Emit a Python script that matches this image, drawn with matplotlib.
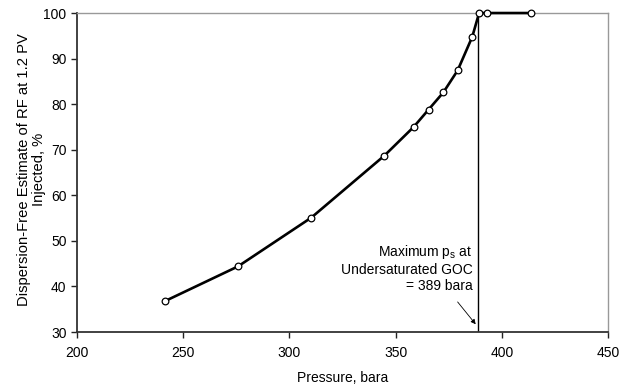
import matplotlib
matplotlib.use("Agg")
import matplotlib.pyplot as plt

plt.rcParams['font.family'] = ['Liberation Sans', 'DejaVu Sans']

# data
pressure = [241.5, 275.8, 310.3, 344.7, 358.5, 365.5, 372.5, 379.2, 386.1, 389.3, 392.9, 413.7]
rf = [36.8, 44.4, 55.1, 68.7, 75.0, 78.8, 82.6, 87.4, 94.8, 100.0, 100.0, 100.0]
max_ps = 389
x_ticks = [200, 250, 300, 350, 400, 450]
y_ticks = [30, 40, 50, 60, 70, 80, 90, 100]

fig = plt.figure(figsize=(6.34, 3.89), dpi=100)
ax = fig.add_axes([0.1215, 0.1465, 0.8375, 0.82])

ax.plot(pressure, rf, color='black', lw=1.9, marker='o', ms=4.8,
        mfc='white', mec='black', mew=0.9, zorder=3, clip_on=False)
ax.axvline(max_ps, color='black', lw=1.0, zorder=2)

ax.annotate('', xy=(387.7, 31.7), xytext=(379.2, 36.6),
            arrowprops=dict(arrowstyle='-|>', color='black', lw=0.6,
                            mutation_scale=7, shrinkA=0, shrinkB=0))
ax.text(386.4, 44.0, 'Maximum p$_\\mathregular{s}$ at\nUndersaturated GOC\n= 389 bara',
        ha='right', va='center', fontsize=10, linespacing=1.2)

ax.set_xlim(200, 450)
ax.set_ylim(30, 100)
ax.set_xticks(x_ticks)
ax.set_yticks(y_ticks)
ax.tick_params(direction='out', length=4, width=1, labelsize=10, colors='#222222',
               labelcolor='black')
ax.tick_params(axis='x', pad=6)

ax.set_xlabel('Pressure, bara', fontsize=10, labelpad=8)
ax.set_ylabel('Dispersion-Free Estimate of RF at 1.2 PV\nInjected, %', fontsize=10.6,
              linespacing=1.15)
ax.yaxis.set_label_coords(-0.058, 0.51)

for side in ['left', 'bottom']:
    ax.spines[side].set_color('#333333')
    ax.spines[side].set_linewidth(1.3)
for side in ['top', 'right']:
    ax.spines[side].set_color('#999999')
    ax.spines[side].set_linewidth(1.0)

fig.savefig('out.png', dpi=100)
